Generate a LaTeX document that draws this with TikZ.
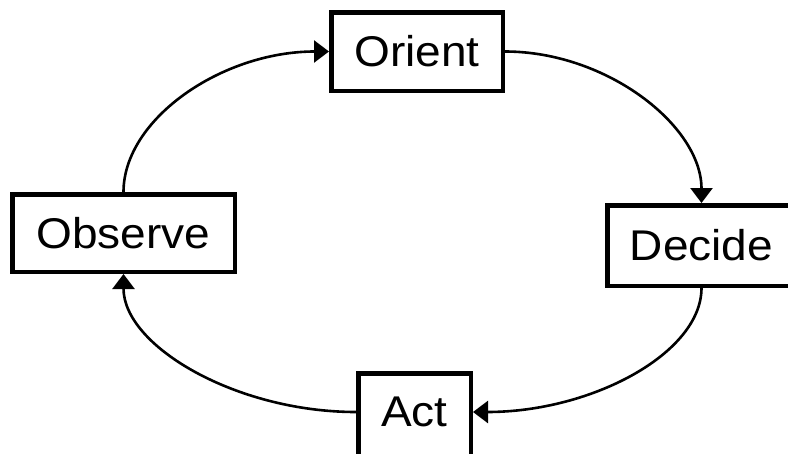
\documentclass[tikz,border=0pt]{standalone}
\usepackage{fontspec}
\setmainfont{Liberation Sans}[FakeStretch=1.07]
\usetikzlibrary{arrows.meta}
\begin{document}
\begin{tikzpicture}[x=1pt,y=-1pt,
  stage/.style={draw=black, line width=4.5pt, fill=white, inner sep=0pt,
    font=\fontsize{43}{50}\selectfont},
  flow/.style={line width=2.6pt, -{Triangle[length=15pt,width=22pt]}}]
\useasboundingbox (0,0) rectangle (788,453);
\fill[white] (0,0) rectangle (788,453);
\clip (0,0) rectangle (788,453);

% the four stages of the loop
\node[stage, minimum width=171.5pt, minimum height=78.5pt] (orient) at (417,51.5) {Orient};
\node[stage, minimum width=222.5pt, minimum height=77.5pt] (observe) at (123.5,233) {Observe};
\node[stage, minimum width=188.5pt, minimum height=80.5pt] (decide) at (701.5,245.5) {Decide};
\node[stage, minimum width=112.5pt, minimum height=87.5pt, text depth=10pt] (act) at (414.5,417) {Act};

% clockwise connectors
\draw[flow] (observe.north) .. controls +(0,-73) and +(-107,0) .. (orient.west);
\draw[flow] (orient.east) .. controls +(102,0) and +(0,-77) .. (decide.north);
\draw[flow] (decide.south) .. controls +(0,65) and +(119,0) .. ([yshift=5pt]act.east);
\draw[flow] ([yshift=5pt]act.west) .. controls +(-120,0) and +(0,72) .. (observe.south);
\end{tikzpicture}
\end{document}
